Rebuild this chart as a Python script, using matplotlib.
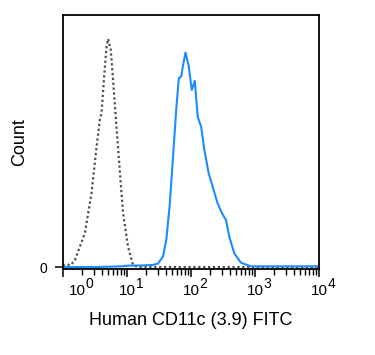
import numpy as np
import matplotlib.pyplot as plt
from matplotlib.ticker import LogLocator, FixedLocator, NullFormatter

plt.rcParams['font.family'] = ['Liberation Sans', 'DejaVu Sans']

# isotype control (gray dotted), log10 intensity vs count
ctrl_log = [0.0, 0.06, 0.12, 0.187, 0.342, 0.446, 0.524, 0.575, 0.602, 0.642, 0.68,
            0.705, 0.746, 0.782, 0.835, 0.886, 0.938, 1.016, 1.093, 1.171, 2.0, 3.0, 4.0]
ctrl_count = [0.5, 1.2, 0.8, 3.1, 14.9, 32.5, 52.6, 64.5, 67.5, 83.3, 96.5,
              100, 95.2, 82.0, 61.4, 42.5, 23.7, 8.8, 0.9, 0.0, 0.0, 0.0, 0.0]

# CD11c stained (blue)
cd11c_log = [0.0, 0.5, 0.918, 1.0, 1.229, 1.40, 1.482, 1.56, 1.613, 1.664, 1.715, 1.768,
             1.809, 1.846, 1.871, 1.913, 1.964, 2.011, 2.058, 2.104, 2.157, 2.208,
             2.275, 2.337, 2.415, 2.484, 2.546, 2.597, 2.675, 2.779, 2.935, 3.5, 4.0]
cd11c_count = [0.0, 0.0, 0.3, 0.6, 0.7, 0.9, 1.5, 4.5, 11.8, 26.4, 46.9, 68.9,
               82.8, 83.5, 87.9, 94.0, 87.9, 77.6, 81.6, 65.9, 61.5, 51.3,
               41.1, 35.2, 27.9, 23.5, 20.6, 13.3, 6.0, 1.9, 0.3, 0.3, 0.3]

decades = [0, 1, 2, 3, 4]

fig = plt.figure(figsize=(3.75, 3.55), dpi=100)
ax = fig.add_axes([0.168, 0.242, 0.683, 0.716])

ax.plot(10 ** np.array(ctrl_log), ctrl_count, color='#4d4d4d', lw=1.6, ls=(0, (1, 1.2)))
ax.plot(10 ** np.array(cd11c_log), cd11c_count, color='#1a8cff', lw=1.5)

ax.set_xscale('log')
ax.set_xlim(1, 1e4)
ax.set_ylim(-0.9, 110.5)

ax.xaxis.set_major_locator(FixedLocator([10.0 ** d for d in decades]))
ax.xaxis.set_minor_locator(LogLocator(base=10, subs=np.arange(2, 10), numticks=10))
ax.xaxis.set_major_formatter(NullFormatter())
ax.xaxis.set_minor_formatter(NullFormatter())
ax.yaxis.set_major_locator(FixedLocator([0]))
ax.set_yticklabels(['0'])

# decade labels drawn as "10" with a raised exponent, like the cytometer export
for d in decades:
    dx = 6 if d == 0 else -8
    ax.annotate('10', xy=(10.0 ** d, 0), xycoords=('data', 'axes fraction'),
                xytext=(dx, -26), textcoords='offset pixels',
                ha='left', va='baseline', fontsize=11)
    ax.annotate(str(d), xy=(10.0 ** d, 0), xycoords=('data', 'axes fraction'),
                xytext=(dx + 16.5, -19), textcoords='offset pixels',
                ha='left', va='baseline', fontsize=10)

for s in ax.spines.values():
    s.set_linewidth(1.3)
ax.tick_params(axis='x', which='major', length=6, width=1.1)
ax.tick_params(axis='x', which='minor', length=4, width=1.0)
ax.tick_params(axis='y', length=6, width=1.1, labelsize=10, pad=5)

ax.set_xlabel('Human CD11c (3.9) FITC', fontsize=13)
ax.set_ylabel('Count', fontsize=13)
ax.xaxis.set_label_coords(0.5, -0.167)
ax.yaxis.set_label_coords(-0.135, 0.5)

fig.savefig('out.png', dpi=100)
